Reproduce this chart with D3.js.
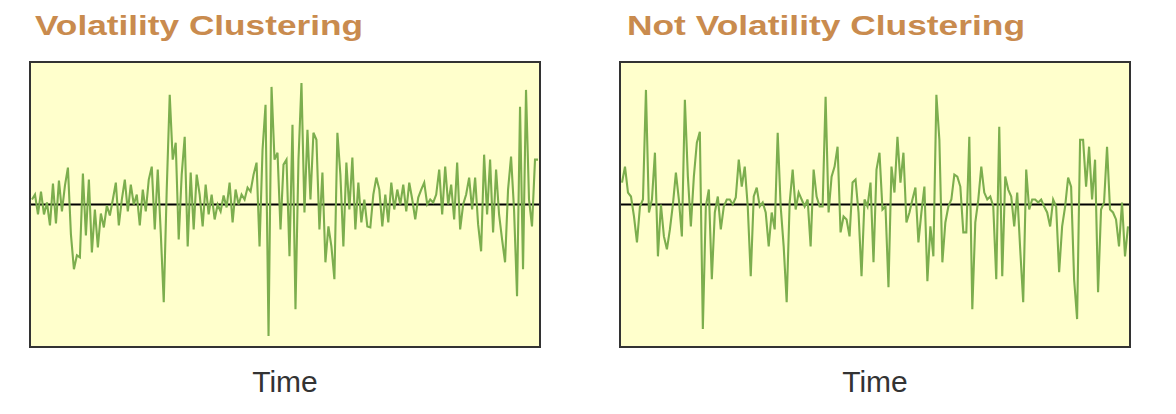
<!DOCTYPE html>
<html><head><meta charset="utf-8">
<script src="https://cdn.jsdelivr.net/npm/d3@7"></script>
<style>html,body{margin:0;padding:0;background:#fff;}svg{display:block;}</style>
</head><body>
<svg id="chart" width="1176" height="414"></svg>
<script>
const titles = ["Volatility Clustering", "Not Volatility Clustering"];
const xLabel = "Time";
// returns (arbitrary units, +/-143 spans the frame)
const clustered = [5,10,-10,13,-10,2,-21,21,-19,24,-7,19,37,-30,-65,-51,-53,31,-31,25,-48,-5,-43,-9,-23,-1,-11,5,22,-21,5,25,-7,20,0,10,-21,15,-7,25,38,-25,35,-28,-98,15,110,45,62,-35,30,68,-42,32,-25,30,10,-22,20,-10,10,-15,0,-7,9,-3,22,-18,15,0,10,5,17,13,30,42,-42,55,100,-132,118,45,52,-25,40,45,-52,80,-105,45,122,-8,75,5,72,65,-25,32,-58,-22,-42,-75,72,30,-42,42,-5,47,-25,22,-18,5,-22,-23,10,27,15,-22,10,-18,22,-5,15,0,20,-7,22,5,-15,7,15,22,0,5,2,10,35,-10,38,0,20,-15,42,-25,0,10,27,-5,27,-20,-47,50,-10,45,-28,35,-10,-35,-58,15,48,-5,-92,98,-65,115,5,-22,45,45];
const notClustered = [22,38,12,8,-12,-38,-2,5,115,-8,5,52,-52,0,-32,-45,-25,0,32,5,-32,105,28,-22,28,62,73,-125,-2,15,-75,-8,8,-25,-2,5,5,0,7,45,18,38,-2,-72,8,17,-2,2,-8,-42,-8,-25,72,-2,-42,-98,2,35,-5,12,5,-2,5,-42,35,8,-2,-2,108,-8,28,38,58,-28,-12,-15,-32,22,25,-8,-72,5,-2,22,-58,35,52,-5,-2,-83,38,12,68,22,52,-18,-8,5,17,-38,-8,18,-77,-22,-52,110,65,-58,-18,-2,5,30,28,18,-28,-28,68,-105,-18,5,38,12,5,8,-2,-75,78,-72,28,15,8,-22,12,-45,-98,35,-5,5,5,2,5,-2,-8,-22,5,-2,-68,-22,-2,27,18,-75,-115,65,65,18,58,5,45,-88,-5,2,58,-5,-8,-15,-42,2,-52,-22];
const yDomain = [-143, 143];

const svg = d3.select("#chart");
const panels = [
  {x0: 30, x1: 540, title: titles[0], data: clustered, titleX: 35, titleW: 328},
  {x0: 620, x1: 1130, title: titles[1], data: notClustered, titleX: 627, titleW: 398}
];
const frameTop = 62, frameBottom = 347;

panels.forEach(p => {
  const g = svg.append("g");
  const x = d3.scaleLinear().domain([0, p.data.length - 1]).range([p.x0 + 2, p.x1 - 2]);
  const y = d3.scaleLinear().domain(yDomain).range([frameBottom, frameTop]);
  g.append("rect").attr("x", p.x0).attr("y", frameTop).attr("width", p.x1 - p.x0).attr("height", frameBottom - frameTop)
    .attr("fill", "#ffffcc").attr("stroke", "none");
  g.append("line").attr("x1", p.x0).attr("x2", p.x1).attr("y1", y(0)).attr("y2", y(0))
    .attr("stroke", "#000").attr("stroke-width", 2);
  const line = d3.line().x((d, i) => x(i)).y(d => y(d));
  g.append("path").datum(p.data).attr("d", line).attr("fill", "none")
    .attr("stroke", "#7cae4e").attr("stroke-width", 2.1).attr("stroke-linejoin", "miter");
  g.append("rect").attr("x", p.x0).attr("y", frameTop).attr("width", p.x1 - p.x0).attr("height", frameBottom - frameTop)
    .attr("fill", "none").attr("stroke", "#333").attr("stroke-width", 2);
  g.append("text").attr("x", p.titleX).attr("y", 35).text(p.title)
    .attr("font-family", "Liberation Sans, Arial, sans-serif").attr("font-weight", "bold")
    .attr("font-size", 28).attr("fill", "#c98b4e")
    .attr("textLength", p.titleW).attr("lengthAdjust", "spacingAndGlyphs");
  g.append("text").attr("x", (p.x0 + p.x1) / 2).attr("y", 392).attr("text-anchor", "middle").text(xLabel)
    .attr("font-family", "Liberation Sans, Arial, sans-serif").attr("font-size", 30).attr("fill", "#333");
});
</script>
</body></html>
